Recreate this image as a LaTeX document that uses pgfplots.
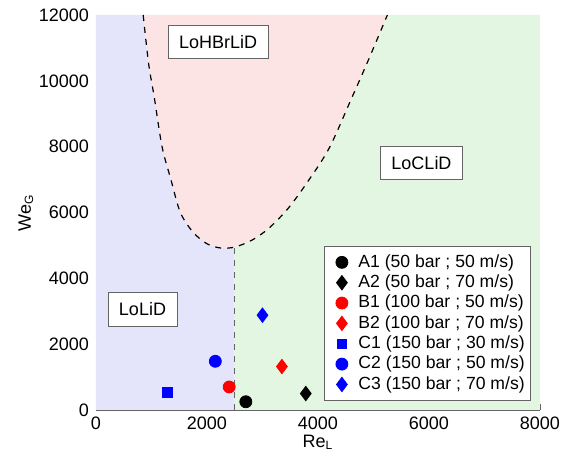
\documentclass[border=0pt]{standalone}
\usepackage{fontspec}
\setmainfont{Liberation Sans}
\usepackage{pgfplots}
\pgfplotsset{compat=1.18}
\definecolor{loblue}{RGB}{228,228,250}
\definecolor{lopink}{RGB}{253,228,228}
\definecolor{logreen}{RGB}{226,246,226}
\definecolor{axgray}{RGB}{100,100,100}
\begin{document}
\begin{tikzpicture}
\useasboundingbox (-48pt,-25.5pt) rectangle (237pt,205pt);
\begin{axis}[
  scale only axis, width=222pt, height=197.5pt,
  xmin=0, xmax=8000, ymin=0, ymax=12000,
  axis x line*=bottom, axis y line*=left,
  axis line style={-, draw=axgray},
  xtick={0,2000,...,8000}, ytick={0,2000,...,12000},
  minor xtick={1000,3000,5000,7000},
  scaled x ticks=false, scaled y ticks=false,
  tick align=inside, major tick length=3pt, minor tick length=2pt,
  tick style={axgray},
  tick label style={font=\fontsize{9}{10}\selectfont},
  /pgf/number format/assume math mode=true,
  /pgf/number format/1000 sep={},
  xlabel={Re\textsubscript{L}}, ylabel={We\textsubscript{G}},
  label style={font=\fontsize{9}{10}\selectfont},
  xlabel style={yshift=4pt}, ylabel style={yshift=-4pt},
  legend style={at={(rel axis cs:0.98,0.415)}, anchor=north east,
    font=\fontsize{8.8}{10}\selectfont, draw=axgray, cells={anchor=west},
    row sep=-1.7pt, inner xsep=1pt, inner ysep=2pt},
  legend image code/.code={
    \path[draw=none, fill=none] (0cm,0cm) -- (0.5cm,0cm);
    \draw[#1] plot coordinates {(0.28cm,0cm)};},
  legend cell align=left,
]
% regime areas
\addplot[draw=none, fill=loblue, forget plot] coordinates {
  (0,0) (0,12000) (850,12000) (950,10500) (1050,9500) (1190,8000) (1350,7000)
  (1520,6000) (1750,5400) (2000,5050) (2250,4920) (2500,4950) (2500,0)};
\addplot[draw=none, fill=lopink, forget plot] coordinates {
  (850,12000) (950,10500) (1050,9500) (1190,8000) (1350,7000) (1520,6000)
  (1750,5400) (2000,5050) (2250,4920) (2500,4950) (2800,5150) (3100,5500)
  (3450,6100) (3800,6900) (4200,7950) (4600,9450) (4900,10600) (5250,12000)};
\addplot[draw=none, fill=logreen, forget plot] coordinates {
  (2500,0) (2500,4950) (2800,5150) (3100,5500) (3450,6100) (3800,6900)
  (4200,7950) (4600,9450) (4900,10600) (5250,12000) (8000,12000) (8000,0)};
% boundaries
\addplot[black, dashed, semithick, smooth, forget plot] coordinates {
  (850,12000) (950,10500) (1050,9500) (1190,8000) (1350,7000) (1520,6000)
  (1750,5400) (2000,5050) (2250,4920) (2500,4950) (2800,5150) (3100,5500)
  (3450,6100) (3800,6900) (4200,7950) (4600,9450) (4900,10600) (5250,12000)};
\addplot[axgray, dashed, forget plot] coordinates {(2500,0) (2500,4950)};
% labels
\node[draw=axgray, fill=white, inner xsep=5.5pt, inner ysep=5pt,
  font=\fontsize{9}{10}\selectfont] at (axis cs:2200,11190) {LoHBrLiD};
\node[draw=axgray, fill=white, inner xsep=5.5pt, inner ysep=5pt,
  font=\fontsize{9}{10}\selectfont] at (axis cs:5865,7496) {LoCLiD};
\node[draw=axgray, fill=white, inner xsep=5.5pt, inner ysep=5pt,
  font=\fontsize{9}{10}\selectfont] at (axis cs:838,3053) {LoLiD};
% test points
\addplot[only marks, mark=*, mark size=3pt, black] coordinates {(2700,250)};
\addlegendentry{A1 (50 bar ; 50 m/s)}
\addplot[only marks, mark=diamond*, mark size=3.6pt, black] coordinates {(3780,500)};
\addlegendentry{A2 (50 bar ; 70 m/s)}
\addplot[only marks, mark=*, mark size=3pt, red] coordinates {(2400,700)};
\addlegendentry{B1 (100 bar ; 50 m/s)}
\addplot[only marks, mark=diamond*, mark size=3.6pt, red] coordinates {(3350,1320)};
\addlegendentry{B2 (100 bar ; 70 m/s)}
\addplot[only marks, mark=square*, mark size=2.4pt, blue] coordinates {(1290,540)};
\addlegendentry{C1 (150 bar ; 30 m/s)}
\addplot[only marks, mark=*, mark size=3pt, blue] coordinates {(2150,1480)};
\addlegendentry{C2 (150 bar ; 50 m/s)}
\addplot[only marks, mark=diamond*, mark size=3.6pt, blue] coordinates {(3000,2880)};
\addlegendentry{C3 (150 bar ; 70 m/s)}
\end{axis}
\end{tikzpicture}
\end{document}
